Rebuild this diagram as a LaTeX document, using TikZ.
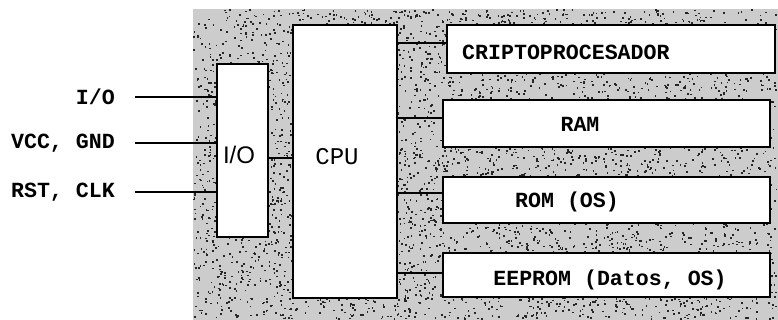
\documentclass[tikz,border=0pt]{standalone}
\usepackage{fontspec}
\setmainfont{Liberation Mono}
\newfontfamily\sansf{Liberation Sans}
\begin{document}
\begin{tikzpicture}[x=1pt,y=-1pt,
  box/.style={draw,fill=white,line width=2.8pt,inner sep=0pt,outer sep=0pt},
  wire/.style={line width=2.8pt},
  lab/.style={font=\bfseries\fontsize{21.6}{22}\selectfont,inner sep=0pt},
  big/.style={font=\fontsize{24}{24}\selectfont,inner sep=0pt}]
\useasboundingbox (0,0) rectangle (778,320);
% speckled board
\fill[black!20] (193,9) rectangle (778,320);
\pgfmathsetseed{7}
\foreach \i in {1,...,5000} {
  \pgfmathsetmacro\rx{193+583*rnd}
  \pgfmathsetmacro\ry{9+309*rnd}
  \fill[black!85] (\rx,\ry) rectangle ++(1.7,1.7);
}
% boxes
\node[box,minimum width=51pt,minimum height=173pt] (io) at (242.5,150.5) {};
\node[box,minimum width=104pt,minimum height=273pt] (cpu) at (345,161.5) {};
\node[box,minimum width=328pt,minimum height=48pt] (cri) at (611,49) {};
\node[box,minimum width=327pt,minimum height=47pt] (ram) at (606.5,123.5) {};
\node[box,minimum width=327pt,minimum height=46pt] (rom) at (606.5,200) {};
\node[box,minimum width=327pt,minimum height=44pt] (eep) at (606.5,275) {};
% box texts
\node[big,font=\sansf\fontsize{24}{24}\selectfont] (tio) at (239,155) {I/O};
\node[big] (tcpu) at (337,157) {CPU};
\node[lab,anchor=west] (tcri) at (462,52) {CRIPTOPROCESADOR};
\node[lab] (tram) at (580,124) {RAM};
\node[lab] (trom) at (567,202) {ROM (OS)};
\node[lab] (teep) at (610,280) {EEPROM (Datos, OS)};
% external pins
\coordinate (p1) at (135,97);
\coordinate (p2) at (135,143);
\coordinate (p3) at (135,192);
\draw[wire] (p1) -- (io.west |- p1);
\draw[wire] (p2) -- (io.west |- p2);
\draw[wire] (p3) -- (io.west |- p3);
\node[lab,anchor=east] (l1) at (115,97) {I/O};
\node[lab,anchor=east] (l2) at (115,143) {VCC, GND};
\node[lab,anchor=east] (l3) at (115,192) {RST, CLK};
% internal buses
\draw[wire] (io.east |- 0,158) -- (cpu.west |- 0,158);
\draw[wire] (cpu.east |- 0,43) -- (cri.west |- 0,43);
\draw[wire] (cpu.east |- 0,118) -- (ram.west |- 0,118);
\draw[wire] (cpu.east |- 0,193) -- (rom.west |- 0,193);
\draw[wire] (cpu.east |- 0,273) -- (eep.west |- 0,273);
\end{tikzpicture}
\end{document}
